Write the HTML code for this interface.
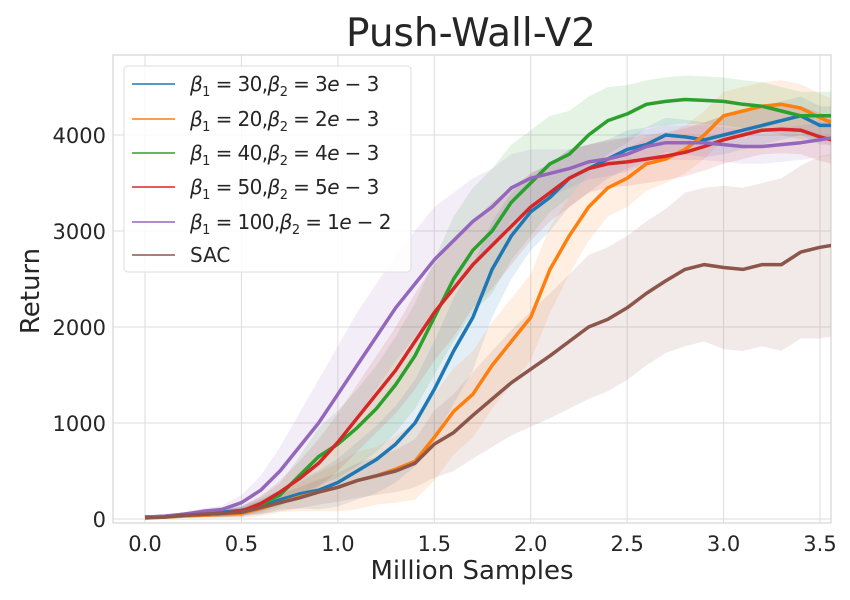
<!DOCTYPE html>
<html><head><meta charset="utf-8"><style>
body{margin:0;background:#fff;}
svg{display:block;font-family:"DejaVu Sans","Liberation Sans",sans-serif;}
</style></head><body>
<svg id="chart" width="850" height="600" viewBox="0 0 850 600"></svg>
<script>
const xs=[0,0.1,0.2,0.3,0.4,0.5,0.6,0.7,0.8,0.9,1.0,1.1,1.2,1.3,1.4,1.5,1.6,1.7,1.8,1.9,2.0,2.1,2.2,2.3,2.4,2.5,2.6,2.7,2.8,2.9,3.0,3.1,3.2,3.3,3.4,3.5,3.56];
const blue=[20,25,50,60,70,90,130,200,260,300,380,500,620,780,1000,1350,1750,2100,2600,2950,3200,3350,3550,3650,3750,3850,3900,4000,3980,3950,4000,4050,4100,4150,4200,4100,4100];
const orange=[20,20,30,40,50,60,110,170,230,280,330,400,450,520,600,850,1120,1300,1600,1850,2100,2600,2950,3250,3450,3550,3700,3750,3850,4000,4200,4250,4300,4320,4280,4180,4130];
const green=[20,25,40,50,60,80,150,250,450,650,780,950,1150,1400,1700,2100,2500,2800,3000,3300,3500,3700,3800,4000,4150,4220,4320,4350,4370,4360,4350,4320,4300,4250,4200,4200,4200];
const red=[20,25,40,50,60,80,160,280,420,580,800,1050,1300,1550,1850,2150,2400,2650,2850,3050,3250,3400,3550,3650,3700,3720,3750,3780,3820,3880,3950,4000,4050,4060,4050,3980,3950];
const purple=[20,30,50,80,100,170,300,500,750,1000,1300,1600,1900,2200,2450,2700,2900,3100,3250,3450,3550,3600,3650,3720,3750,3800,3880,3920,3920,3920,3900,3880,3880,3900,3920,3950,3970];
const sac=[10,20,40,50,60,70,120,170,220,280,330,400,450,500,580,780,900,1080,1250,1420,1560,1700,1850,2000,2080,2200,2350,2480,2600,2650,2620,2600,2650,2650,2780,2830,2850];
const spreadBlue=[10,10,20,30,40,50,80,100,150,200,250,300,350,400,450,500,550,550,500,450,400,350,300,250,200,200,180,180,180,180,200,200,200,200,200,200,200];
const spreadOrange=[10,10,20,30,40,50,80,100,150,200,250,300,300,350,400,450,450,450,450,450,450,450,400,350,300,300,280,250,250,250,250,250,250,250,250,250,250];
const spreadGreen=[10,10,20,30,40,50,80,120,200,300,350,400,450,500,550,600,650,650,650,600,550,500,450,400,350,300,250,250,250,250,250,250,250,250,250,250,250];
const spreadRed=[10,10,20,30,40,50,80,120,180,250,300,350,400,450,500,500,500,450,450,400,350,300,300,250,250,250,250,250,250,250,250,250,250,250,250,250,250];
const spreadPurple=[10,10,20,30,40,80,150,250,350,450,500,550,550,550,550,550,500,450,400,350,300,250,200,180,180,180,180,180,180,180,180,180,180,180,180,180,180];
const spreadSac=[10,10,20,30,40,50,70,90,110,130,150,180,200,220,250,350,400,450,500,550,600,650,700,750,750,750,750,750,800,800,850,850,850,900,900,950,950];
const xTicks=[0,0.5,1.0,1.5,2.0,2.5,3.0,3.5];
const xTickLabels=["0.0","0.5","1.0","1.5","2.0","2.5","3.0","3.5"];
const yTicks=[0,1000,2000,3000,4000];
const yTickLabels=["0","1000","2000","3000","4000"];
const series=[
 {name:"beta1-30",vals:blue,sp:spreadBlue,c:"#1f77b4"},
 {name:"beta1-20",vals:orange,sp:spreadOrange,c:"#ff7f0e"},
 {name:"beta1-40",vals:green,sp:spreadGreen,c:"#2ca02c"},
 {name:"beta1-50",vals:red,sp:spreadRed,c:"#d62728"},
 {name:"beta1-100",vals:purple,sp:spreadPurple,c:"#9467bd"},
 {name:"sac",vals:sac,sp:spreadSac,c:"#8c564b"}];
const L=113,R=831,T=55,B=523;
const X=v=>145+v*192.86;
const Y=v=>519-v*0.096;
const NS="http://www.w3.org/2000/svg";
const svg=document.getElementById('chart');
function mk(tag,attrs,parent){const e=document.createElementNS(NS,tag);for(const k in attrs)e.setAttribute(k,attrs[k]);(parent||svg).appendChild(e);return e;}
const bg=mk('rect',{x:L,y:T,width:R-L,height:B-T,fill:'#fff',stroke:'#ccc','stroke-width':1});


xTicks.forEach((t,i)=>{
 const g=mk('line',{x1:X(t),x2:X(t),y1:T,y2:B,stroke:'#ddd','stroke-width':1});
 
 
 const tx=mk('text',{x:X(t),y:551,'text-anchor':'middle','font-size':21,fill:'#262626'});
 tx.textContent=xTickLabels[i];
 
 
});
yTicks.forEach((t,i)=>{
 const g=mk('line',{x1:L,x2:R,y1:Y(t),y2:Y(t),stroke:'#ddd','stroke-width':1});
 
 
 const tx=mk('text',{x:106,y:Y(t)+8,'text-anchor':'end','font-size':21,fill:'#262626'});
 tx.textContent=yTickLabels[i];
 
 
});
const cp=mk('clipPath',{id:'clip'});mk('rect',{x:L,y:T,width:R-L,height:B-T},cp);
series.forEach(s=>{
 let up=xs.map((x,i)=>X(x).toFixed(1)+','+Y(s.vals[i]+s.sp[i]).toFixed(1));
 let lo=xs.map((x,i)=>X(x).toFixed(1)+','+Y(Math.max(0,s.vals[i]-s.sp[i])).toFixed(1)).reverse();
 const b=mk('polygon',{points:up.concat(lo).join(' '),fill:s.c,'fill-opacity':0.12,'clip-path':'url(#clip)'});
 
 
});
series.forEach(s=>{
 const p=mk('polyline',{points:xs.map((x,i)=>X(x).toFixed(1)+','+Y(s.vals[i]).toFixed(1)).join(' '),fill:'none',stroke:s.c,'stroke-width':3.5,'stroke-linejoin':'round','clip-path':'url(#clip)'});
 
 
});
</script>
<svg style="position:absolute;left:0;top:0" width="850" height="600">
<text x="471" y="46" text-anchor="middle" font-size="39" fill="#262626" font-family="DejaVu Sans,sans-serif">Push-Wall-V2</text>
<text x="472" y="579" text-anchor="middle" font-size="26" fill="#262626" font-family="DejaVu Sans,sans-serif">Million Samples</text>
<text transform="translate(39,291) rotate(-90)" text-anchor="middle" font-size="26" fill="#262626" font-family="DejaVu Sans,sans-serif">Return</text>
<g font-family="DejaVu Sans,sans-serif" font-size="20" fill="#262626">
<rect x="124" y="66" width="287" height="206" rx="4" fill="#fff" fill-opacity="0.85" stroke="#ddd"/>
<g><line x1="132" x2="175" y1="84" y2="84" stroke="#1f77b4" stroke-width="1.5"/><text x="190" y="91" letter-spacing="-0.6"><tspan font-style="italic">β</tspan><tspan font-size="13" dy="5">1</tspan><tspan dy="-5"> = 30,</tspan><tspan font-style="italic">β</tspan><tspan font-size="13" dy="5">2</tspan><tspan dy="-5"> = 3</tspan><tspan font-style="italic">e</tspan> − 3</text></g>
<g><line x1="132" x2="175" y1="119" y2="119" stroke="#ff7f0e" stroke-width="1.5"/><text x="190" y="126" letter-spacing="-0.6"><tspan font-style="italic">β</tspan><tspan font-size="13" dy="5">1</tspan><tspan dy="-5"> = 20,</tspan><tspan font-style="italic">β</tspan><tspan font-size="13" dy="5">2</tspan><tspan dy="-5"> = 2</tspan><tspan font-style="italic">e</tspan> − 3</text></g>
<g><line x1="132" x2="175" y1="153" y2="153" stroke="#2ca02c" stroke-width="1.5"/><text x="190" y="160" letter-spacing="-0.6"><tspan font-style="italic">β</tspan><tspan font-size="13" dy="5">1</tspan><tspan dy="-5"> = 40,</tspan><tspan font-style="italic">β</tspan><tspan font-size="13" dy="5">2</tspan><tspan dy="-5"> = 4</tspan><tspan font-style="italic">e</tspan> − 3</text></g>
<g><line x1="132" x2="175" y1="187" y2="187" stroke="#d62728" stroke-width="1.5"/><text x="190" y="194" letter-spacing="-0.6"><tspan font-style="italic">β</tspan><tspan font-size="13" dy="5">1</tspan><tspan dy="-5"> = 50,</tspan><tspan font-style="italic">β</tspan><tspan font-size="13" dy="5">2</tspan><tspan dy="-5"> = 5</tspan><tspan font-style="italic">e</tspan> − 3</text></g>
<g><line x1="132" x2="175" y1="222" y2="222" stroke="#9467bd" stroke-width="1.5"/><text x="190" y="229" letter-spacing="-0.6"><tspan font-style="italic">β</tspan><tspan font-size="13" dy="5">1</tspan><tspan dy="-5"> = 100,</tspan><tspan font-style="italic">β</tspan><tspan font-size="13" dy="5">2</tspan><tspan dy="-5"> = 1</tspan><tspan font-style="italic">e</tspan> − 2</text></g>
<g><line x1="132" x2="175" y1="255" y2="255" stroke="#8c564b" stroke-width="1.5"/><text x="190" y="262">SAC</text></g>
</g>
</svg>
</body></html>
